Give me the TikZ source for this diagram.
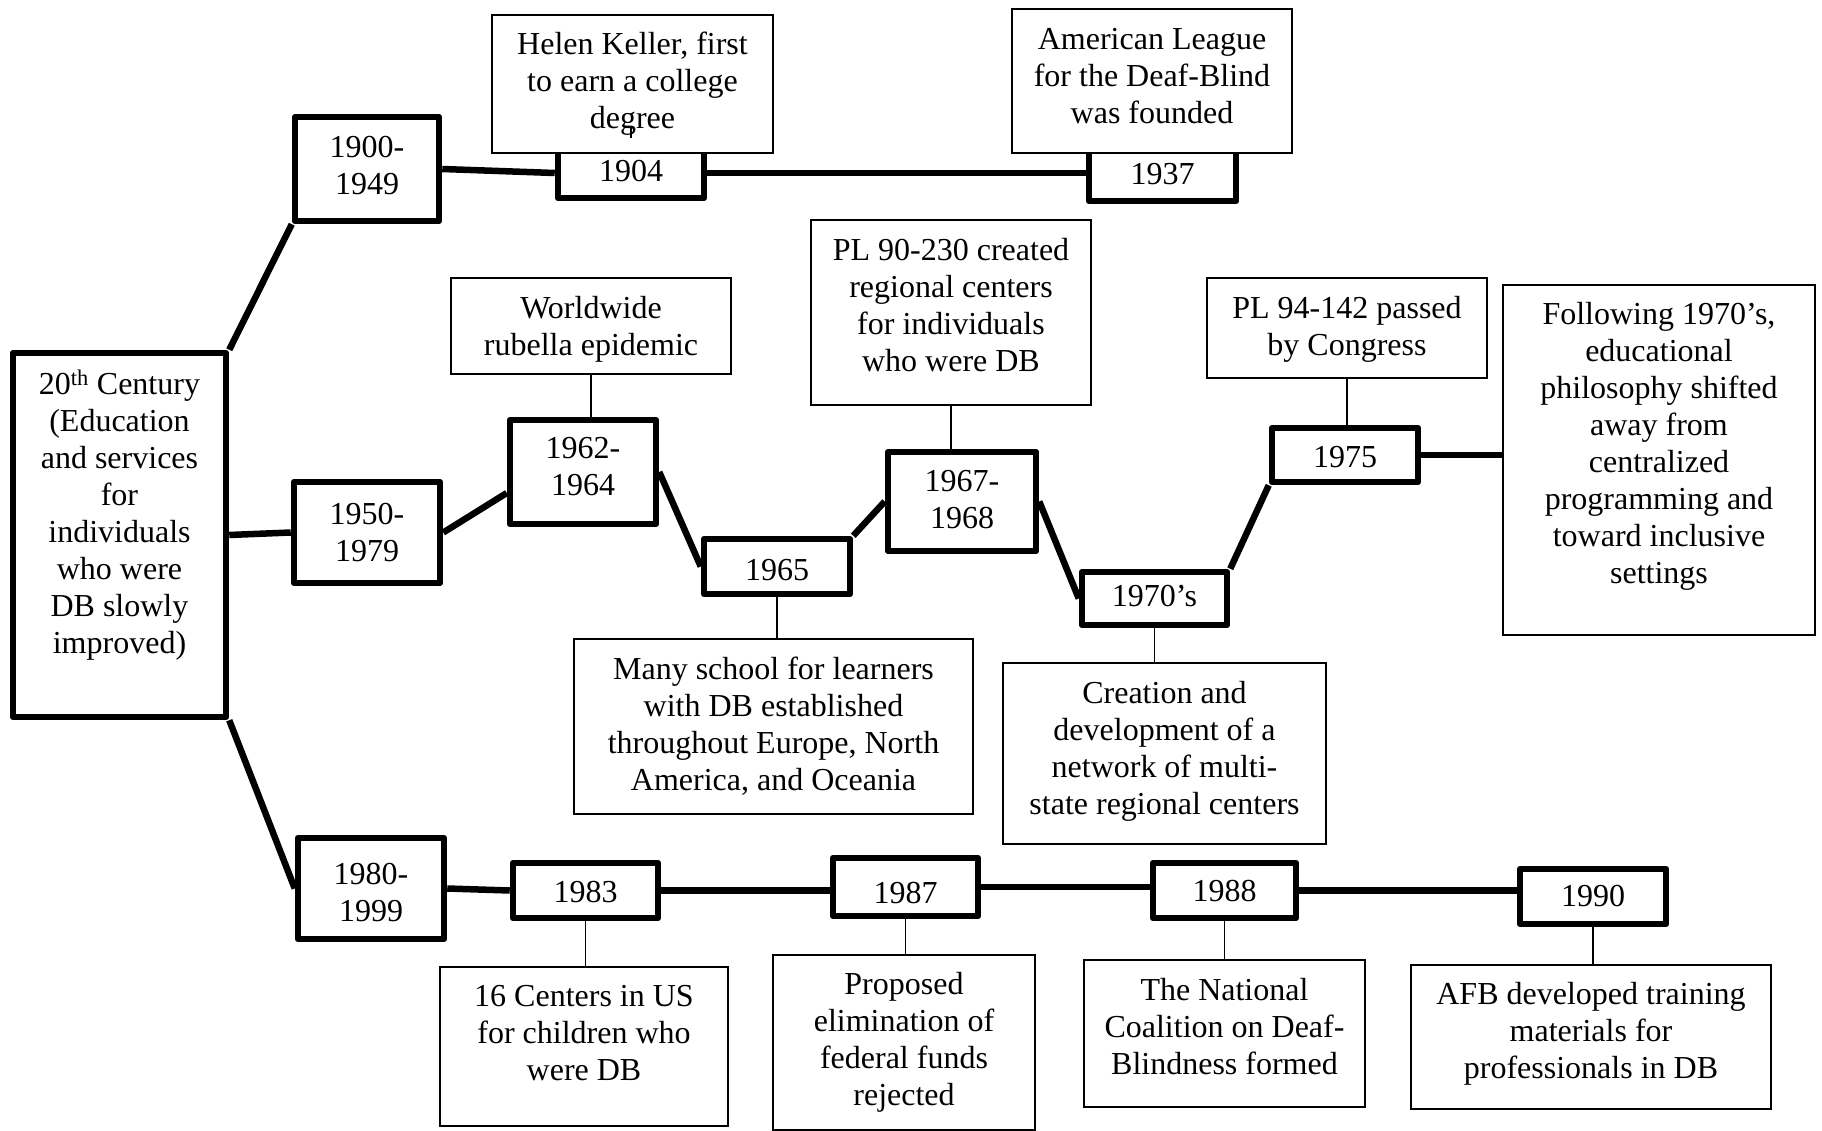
\documentclass[tikz,border=0pt]{standalone}
\usepackage{fontspec}
\setmainfont{Liberation Serif}
% \tbox{name}{style}{cx}{cy}{width}{height}{text offset}{text}
% draws a box and its text as two nodes, the text nudged down by the offset
\newcommand\tbox[8]{%
  \node[#2, minimum width=#5, minimum height=#6] (#1) at (#3,#4) {};
  \node (#1-t) at (#3,#4+#7) {#8};}
\begin{document}
\begin{tikzpicture}[x=1pt,y=-1pt,
  every node/.style={font=\fontsize{32}{37}\selectfont, align=center, inner sep=0pt},
  yearbox/.style={draw, line width=6.5pt, line join=round, fill=white},
  eventbox/.style={draw, line width=1.4pt, fill=white},
  boxtext/.style={anchor=north},
  bar/.style={line width=6.5pt},
  stem/.style={line width=1.4pt}]
\useasboundingbox (0,0) rectangle (1822,1131);

% ---- root box ----
\node[yearbox, minimum width=213, minimum height=364] (main) at (119.5,535) {};
\node[boxtext] (main-t) at (119.5,370) {20\textsuperscript{th} Century\\(Education\\and services\\for\\individuals\\who were\\DB slowly\\improved)};

% ---- 1900-1949 branch ----
\tbox{y1900}{yearbox}{367}{169}{144}{104}{-3.5}{1900-\\1949}
\tbox{y1904}{yearbox}{631}{173}{146}{50}{-2}{1904}
\tbox{helen}{eventbox}{632.5}{84}{281}{138}{0}{Helen Keller, first\\to earn a college\\degree}
\tbox{y1937}{yearbox}{1162.5}{175}{147}{52}{-1}{1937}
\tbox{amleague}{eventbox}{1152}{81}{280}{144}{-5}{American League\\for the Deaf-Blind\\was founded}

% ---- 1950-1979 branch ----
\tbox{y1950}{yearbox}{367}{532.5}{146}{101}{0}{1950-\\1979}
\tbox{y1962}{yearbox}{583}{472}{146}{104}{-5}{1962-\\1964}
\tbox{worldwide}{eventbox}{591}{326}{280}{96}{3.5}{Worldwide\\rubella epidemic}
\tbox{y1965}{yearbox}{777}{566.5}{146}{55}{3.5}{1965}
\tbox{many}{eventbox}{773.5}{726.5}{399}{175}{0}{Many school for learners\\with DB established\\throughout Europe, North\\America, and Oceania}
\tbox{y1967}{yearbox}{962}{501.5}{148}{99}{-2}{1967-\\1968}
\tbox{pl90}{eventbox}{951}{312.5}{280}{185}{-7}{PL 90-230 created\\regional centers\\for individuals\\who were DB}
\tbox{y1970}{yearbox}{1154.5}{598.5}{145}{53}{-2}{1970’s}
\tbox{creation}{eventbox}{1164.5}{753.5}{323}{181}{-2}{Creation and\\development of a\\network of multi-\\state regional centers}
\tbox{y1975}{yearbox}{1345}{455}{146}{54}{2}{1975}
\tbox{pl94}{eventbox}{1347}{328}{280}{100}{1}{PL 94-142 passed\\by Congress}
\node[eventbox, minimum width=312, minimum height=350] (follow) at (1659,460) {};
\node[boxtext] (follow-t) at (1659,302) {Following 1970’s,\\educational\\philosophy shifted\\away from\\centralized\\programming and\\toward inclusive\\settings};

% ---- 1980-1999 branch ----
\tbox{y1980}{yearbox}{371}{888.5}{146}{101}{4.5}{1980-\\1999}
\tbox{y1983}{yearbox}{585.5}{890.5}{145}{55}{2}{1983}
\node[eventbox, minimum width=288, minimum height=159] (centers) at (584,1046.5) {};
\node[boxtext] (centers-t) at (584,985) {16 Centers in US\\for children who\\were DB};
\tbox{y1987}{yearbox}{905.5}{887}{145}{58}{6}{1987}
\tbox{proposed}{eventbox}{904}{1042.5}{262}{175}{0}{Proposed\\elimination of\\federal funds\\rejected}
\tbox{y1988}{yearbox}{1224.5}{890.5}{143}{55}{1}{1988}
\tbox{national}{eventbox}{1224.5}{1033.5}{281}{147}{-7}{The National\\Coalition on Deaf-\\Blindness formed}
\tbox{y1990}{yearbox}{1593}{896.5}{146}{55}{0}{1990}
\tbox{afb}{eventbox}{1591}{1037}{360}{144}{-3.5}{AFB developed training\\materials for\\professionals in DB}

% ---- thick timeline connectors ----
\draw[bar] (main.north east) -- (y1900.south west);
\draw[bar] (main.east) -- (y1950.west);
\draw[bar] (main.south east) -- (y1980.west);
\draw[bar] (y1900.east) -- (y1904.west);
\draw[bar] (y1904.east) -- (y1904.east -| y1937.west);
\draw[bar] (y1950.east) -- ([yshift=-21pt]y1962.west);
\draw[bar] (y1962.east) -- (y1965.west);
\draw[bar] (y1965.north east) -- (y1967.west);
\draw[bar] (y1967.east) -- (y1970.west);
\draw[bar] (y1970.north east) -- (y1975.south west);
\draw[bar] (y1975.east) -- (y1975.east -| follow.west);
\draw[bar] (y1980.east) -- (y1983.west);
\draw[bar] (y1983.east) -- (y1983.east -| y1987.west);
\draw[bar] (y1987.east) -- (y1987.east -| y1988.west);
\draw[bar] (y1988.east) -- (y1988.east -| y1990.west);

% ---- thin stems to the event boxes ----
\coordinate (tick) at (631,128);
\draw[stem] (tick) -- ++(0,10);
\draw[stem] (worldwide.south) -- (worldwide.south |- y1962.north);
\draw[stem] (pl90.south) -- (pl90.south |- y1967.north);
\draw[stem] (pl94.south) -- (pl94.south |- y1975.north);
\draw[stem] (y1965.south) -- (y1965.south |- many.north);
\draw[stem] (y1970.south) -- (y1970.south |- creation.north);
\draw[stem] (y1983.south) -- (y1983.south |- centers.north);
\draw[stem] (y1987.south) -- (y1987.south |- proposed.north);
\draw[stem] (y1988.south) -- (y1988.south |- national.north);
\draw[stem] (y1990.south) -- (y1990.south |- afb.north);
\end{tikzpicture}
\end{document}
